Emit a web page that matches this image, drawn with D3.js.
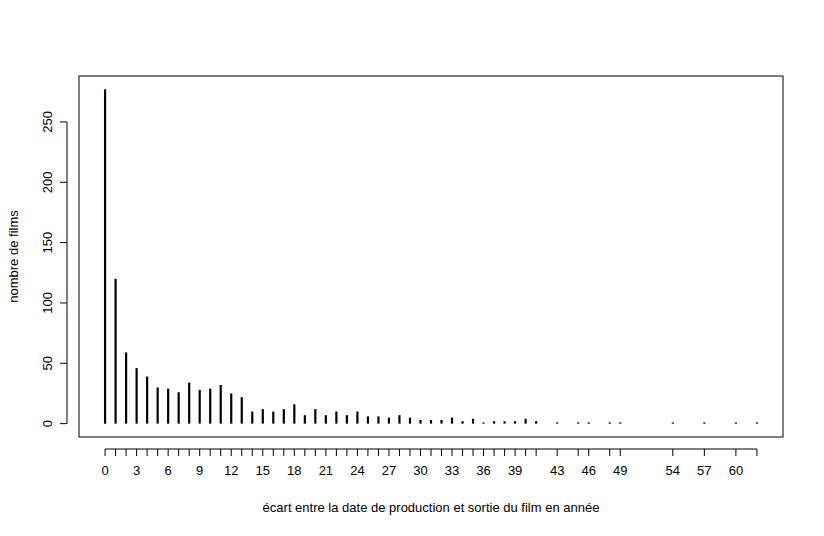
<!DOCTYPE html>
<html><head><meta charset="utf-8">
<script src="https://cdn.jsdelivr.net/npm/d3@7"></script>
<style>body{margin:0;background:#fff}text{font-family:"Liberation Sans",Arial,sans-serif;font-size:13px}</style>
</head><body><div id="chart"></div>
<script>
const ecarts = [0,1,2,3,4,5,6,7,8,9,10,11,12,13,14,15,16,17,18,19,20,21,22,23,24,25,26,27,28,29,30,31,32,33,34,35,36,37,38,39,40,41,43,45,46,48,49,54,57,60,62];
const films = [277,120,59,46,39,30,29,26,34,28,29,32,25,22,10,12,10,12,16,7,12,7,10,7,10,6,6,5,7,5,3,3,3,5,2,4,1,2,2,2,4,2,1,1,1,1,1,1,1,1,1];
const xLabels = [0,3,6,9,12,15,18,21,24,27,30,33,36,39,43,46,49,54,57,60];
const yTicks = [0,50,100,150,200,250];

const W = 824, H = 536, L = 79, R = 783, T = 76, B = 437;
const svg = d3.select("#chart").append("svg").attr("width", W).attr("height", H);
const xr = d3.extent(ecarts), xp = (xr[1] - xr[0]) * 0.04;
const x = d3.scaleLinear().domain([xr[0] - xp, xr[1] + xp]).range([L, R]);
const ym = d3.max(films), yp = ym * 0.04;
const y = d3.scaleLinear().domain([-yp, ym + yp]).range([B, T]);

svg.append("rect").attr("x", L).attr("y", T).attr("width", R - L).attr("height", B - T)
  .attr("fill", "none").attr("stroke", "#000");

svg.selectAll("line.bar").data(ecarts).enter().append("line").attr("class", "bar")
  .attr("x1", d => x(d)).attr("x2", d => x(d))
  .attr("y1", y(0)).attr("y2", (d, i) => y(films[i]))
  .attr("stroke", "#000").attr("stroke-width", 2.2);

// x axis
const xa = svg.append("g").attr("transform", `translate(0,${B + 12})`);
xa.append("line").attr("x1", x(ecarts[0])).attr("x2", x(ecarts[ecarts.length - 1])).attr("stroke", "#000");
xa.selectAll("line.t").data(ecarts).enter().append("line").attr("class", "t")
  .attr("x1", d => x(d)).attr("x2", d => x(d)).attr("y1", 0).attr("y2", 7).attr("stroke", "#000");
xa.selectAll("text").data(xLabels).enter().append("text")
  .attr("x", d => x(d)).attr("y", 26).attr("text-anchor", "middle").text(d => d);

// y axis
const ya = svg.append("g").attr("transform", `translate(${L - 12},0)`);
ya.append("line").attr("y1", y(0)).attr("y2", y(250)).attr("stroke", "#000");
ya.selectAll("line.t").data(yTicks).enter().append("line").attr("class", "t")
  .attr("y1", d => y(d)).attr("y2", d => y(d)).attr("x1", 0).attr("x2", -7).attr("stroke", "#000");
ya.selectAll("text").data(yTicks).enter().append("text")
  .attr("transform", d => `translate(-15,${y(d)}) rotate(-90)`)
  .attr("text-anchor", "middle").text(d => d);

svg.append("text").attr("x", (L + R) / 2).attr("y", 512).attr("text-anchor", "middle")
  .text("écart entre la date de production et sortie du film en année");
svg.append("text").attr("transform", `translate(18,${(T + B) / 2}) rotate(-90)`)
  .attr("text-anchor", "middle").text("nombre de films");
</script></body></html>
